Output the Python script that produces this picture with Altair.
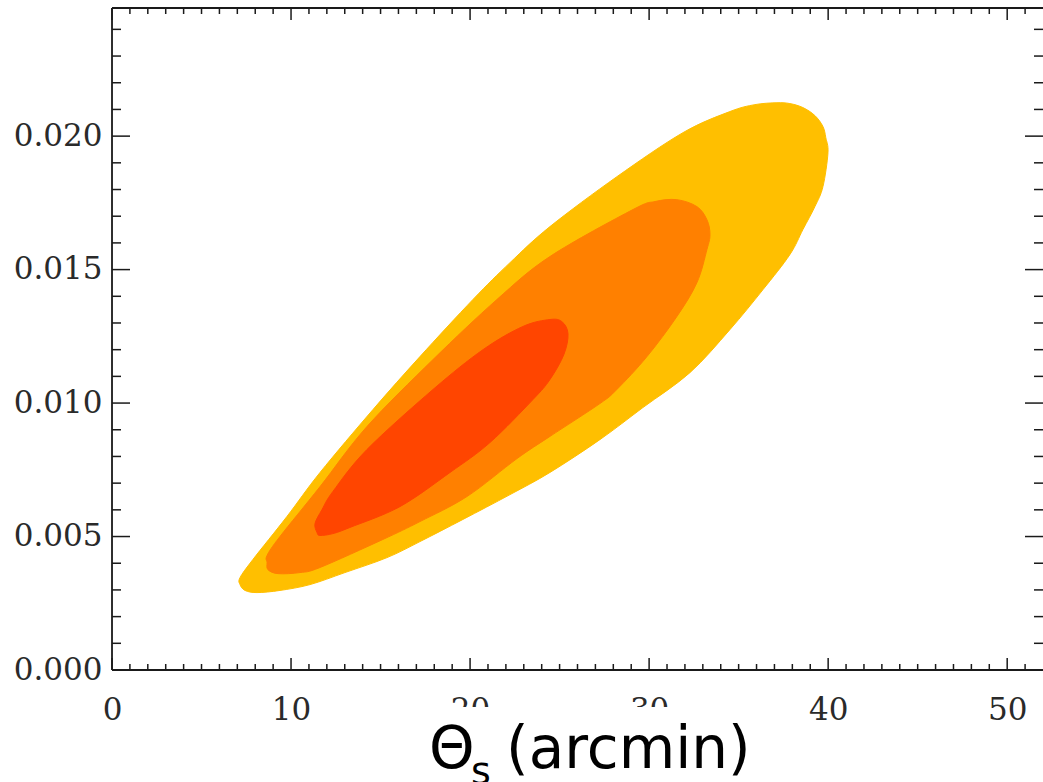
import altair as alt
import pandas as pd

# Confidence contours in the (Theta_s, amplitude) plane, outer to inner.
# Each contour is a closed outline given as matching x / y vertex lists.
outer_x = [7.15, 7.43, 8.10, 9.38, 11.06, 13.01, 15.36, 17.20, 19.60, 22.23,
           24.46, 27.25, 29.65, 32.28, 34.51, 36.36, 37.86, 38.59, 39.26, 39.71,
           39.99, 39.87, 39.71, 39.26, 38.59, 37.86, 37.14, 35.91, 34.51, 31.89,
           28.20, 24.46, 22.23, 20.16, 17.20, 14.58, 11.62, 9.77, 7.87, 7.15]
outer_y = [0.00320, 0.00298, 0.00290, 0.00298, 0.00320, 0.00365, 0.00421, 0.00481,
           0.00564, 0.00657, 0.00740, 0.00863, 0.00983, 0.01114, 0.01275, 0.01425,
           0.01556, 0.01650, 0.01736, 0.01811, 0.01938, 0.01994, 0.02036, 0.02077,
           0.02107, 0.02122, 0.02125, 0.02118, 0.02092, 0.02013, 0.01848, 0.01661,
           0.01526, 0.01388, 0.01174, 0.00976, 0.00740, 0.00575, 0.00414, 0.00346]

middle_x = [8.66, 8.71, 9.27, 10.50, 11.62, 15.13, 17.20, 19.83, 22.62, 24.46,
            27.25, 28.20, 29.88, 31.55, 32.67, 33.23, 33.40, 33.23, 32.67, 31.55,
            30.33, 29.10, 24.46, 21.50, 17.93, 14.24, 11.62, 9.38, 8.66]
middle_y = [0.00403, 0.00376, 0.00361, 0.00365, 0.00384, 0.00489, 0.00556, 0.00650,
            0.00792, 0.00875, 0.00998, 0.01051, 0.01174, 0.01324, 0.01451, 0.01575,
            0.01631, 0.01687, 0.01736, 0.01762, 0.01755, 0.01725, 0.01549, 0.01388,
            0.01163, 0.00912, 0.00687, 0.00500, 0.00429]

inner_x = [11.45, 11.34, 11.73, 12.34, 14.24, 17.93, 20.72, 22.95, 24.46, 25.13,
           25.47, 25.24, 24.46, 23.51, 21.11, 18.88, 16.08, 13.29, 12.34, 11.62]
inner_y = [0.00515, 0.00549, 0.00601, 0.00669, 0.00826, 0.01051, 0.01200, 0.01287,
           0.01313, 0.01305, 0.01260, 0.01182, 0.01088, 0.01013, 0.00852, 0.00740,
           0.00612, 0.00534, 0.00511, 0.00504]

contour_colors = ["#FFBF00", "#FF8000", "#FF4500"]

# Axis ranges, tick positions and labels
x_domain = [0, 52.0]
y_domain = [0, 0.0248]
x_major = [0, 10, 20, 30, 40, 50]
x_minor = [v for v in range(1, 52) if v % 10 != 0]
y_major = [0.000, 0.005, 0.010, 0.015, 0.020]
y_minor = [round(0.001 * k, 3) for k in range(1, 25) if k % 5 != 0]
title_parts = ["\u0398", "s", "(arcmin)"]

W, H = 931, 662
INK = "#1a1a1a"
LABEL_INK = "#2a2a2a"

xs = alt.Scale(domain=x_domain, nice=False, zero=False)
ys = alt.Scale(domain=y_domain, nice=False, zero=False)

# one shared axis definition per channel, labels only (ticks drawn as rules)
xax = alt.Axis(values=x_major, format="d", title=None, grid=False,
               domain=False, ticks=False, tickSize=0, labelFlush=False,
               labelOverlap=False, labelPadding=25, labelFont="DejaVu Serif",
               labelFontSize=31, labelColor=LABEL_INK)
yax = alt.Axis(values=y_major, format=".3f", title=None, grid=False,
               domain=False, ticks=False, tickSize=0, labelOverlap=False,
               labelPadding=10, labelFont="DejaVu Serif", labelFontSize=31,
               labelColor=LABEL_INK)


def contour(xv, yv, color):
    df = pd.DataFrame({"x": xv, "y": yv, "i": list(range(len(xv)))})
    return alt.Chart(df).mark_line(
        interpolate="cardinal-closed", fill=color, stroke=color, strokeWidth=1
    ).encode(
        x=alt.X("x:Q", scale=xs, axis=xax),
        y=alt.Y("y:Q", scale=ys, axis=yax),
        order="i:Q",
    )


def tick_rules(values, channel, length, side):
    df = pd.DataFrame({"v": values})
    base = alt.Chart(df).mark_rule(color=INK, strokeWidth=1.5)
    if channel == "x":
        if side == "bottom":
            yy, yy2 = H, H - length
        else:
            yy, yy2 = 0, length
        return base.encode(x=alt.X("v:Q", scale=xs, axis=xax),
                           y=alt.value(yy), y2=alt.value(yy2))
    if side == "left":
        xx, xx2 = 0, length
    else:
        xx, xx2 = W, W - length
    return base.encode(y=alt.Y("v:Q", scale=ys, axis=yax),
                       x=alt.value(xx), x2=alt.value(xx2))


layers = [
    contour(outer_x, outer_y, contour_colors[0]),
    contour(middle_x, middle_y, contour_colors[1]),
    contour(inner_x, inner_y, contour_colors[2]),
]

# inward-pointing ticks on all four sides
for side in ("bottom", "top"):
    layers.append(tick_rules(x_major, "x", 12, side))
    layers.append(tick_rules(x_minor, "x", 6, side))
for side in ("left", "right"):
    layers.append(tick_rules(y_major, "y", 18, side))
    layers.append(tick_rules(y_minor, "y", 9, side))

# frame: left, bottom and top edges
frame = pd.DataFrame({"k": [0]})
layers.append(alt.Chart(frame).mark_rule(color=INK, strokeWidth=1.8).encode(
    x=alt.value(0), y=alt.value(0), y2=alt.value(H)))
layers.append(alt.Chart(frame).mark_rule(color=INK, strokeWidth=1.8).encode(
    x=alt.value(0), x2=alt.value(W), y=alt.value(H)))
layers.append(alt.Chart(frame).mark_rule(color=INK, strokeWidth=1.8).encode(
    x=alt.value(0), x2=alt.value(W), y=alt.value(0)))

# x-axis title on an opaque white box (it sits over the lower half of the
# nearby tick labels): Theta with subscript s, then the unit
layers.append(alt.Chart(frame).mark_rect(color="white").encode(
    x=alt.value(318), x2=alt.value(640), y=alt.value(699), y2=alt.value(780)))
title_df = pd.DataFrame({"t": title_parts})
layers.append(alt.Chart(title_df.iloc[[0]]).mark_text(
    font="DejaVu Sans", fontSize=58, align="left", baseline="alphabetic", color="black"
).encode(text="t:N", x=alt.value(317), y=alt.value(760)))
layers.append(alt.Chart(title_df.iloc[[1]]).mark_text(
    font="DejaVu Sans", fontSize=38, align="left", baseline="alphabetic", color="black"
).encode(text="t:N", x=alt.value(359), y=alt.value(776)))
layers.append(alt.Chart(title_df.iloc[[2]]).mark_text(
    font="DejaVu Sans", fontSize=58, align="left", baseline="alphabetic", color="black"
).encode(text="t:N", x=alt.value(394), y=alt.value(760)))

chart = alt.layer(*layers).properties(
    width=W, height=H,
    autosize=alt.AutoSizeParams(type="none"),
    padding={"left": 112, "top": 8, "right": 0, "bottom": 112},
).configure_view(strokeWidth=0).configure(background="white")

chart.save("out.html", embed_options={"renderer": "svg", "actions": False})
